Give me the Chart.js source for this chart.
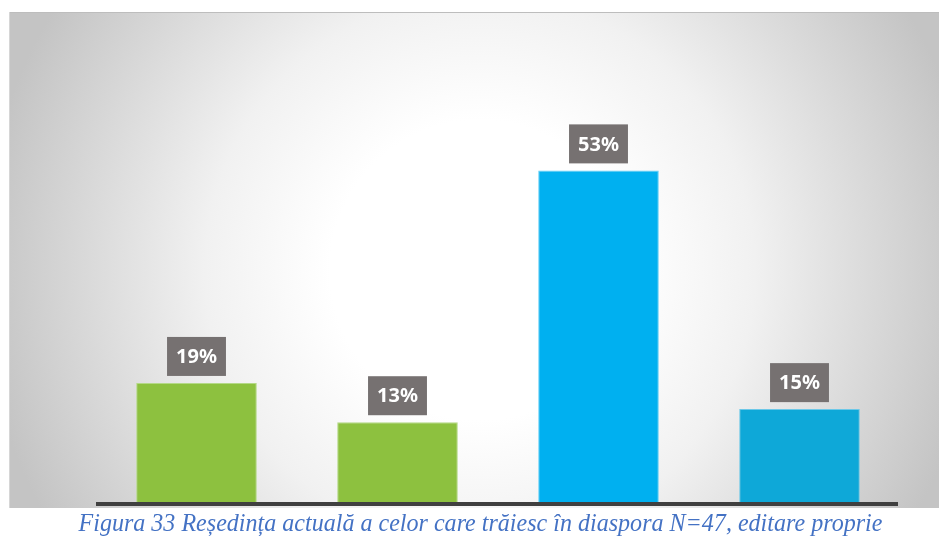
<!DOCTYPE html>
<html>
<head>
<meta charset="utf-8">
<script src="https://cdn.jsdelivr.net/npm/chart.js@4/dist/chart.umd.min.js"></script>
<style>
  body { margin: 0; background: #fff; width: 939px; height: 543px; overflow: hidden; position: relative; }
  #wrap { position: absolute; left: 0; top: 0; width: 939px; height: 510px; }
  #caption { position: absolute; left: 0; top: 510px; width: 960px; text-align: center; }
  #caption span { display: inline-block; font: italic 26px "Liberation Serif", "Times New Roman", serif; line-height: 1; color: #4472C4; white-space: nowrap; transform-origin: center; }
</style>
</head>
<body>
<div id="wrap"><canvas id="myChart" width="939" height="510"></canvas></div>
<div id="caption"><span id="capText"></span></div>
<script>
const categories = ['Categoria 1', 'Categoria 2', 'Categoria 3', 'Categoria 4'];
const values = [19.1, 12.8, 53.2, 14.9];
const barColors = ['#8DC13F', '#8DC13F', '#00B0F0', '#0EA8D8'];
const borderColors = ['#B4D986', '#B4D986', '#66D0F6', '#6CC8E8'];
const captionText = 'Figura 33 Reședința actuală a celor care trăiesc în diaspora N=47, editare proprie';

// caption, squeezed to the width it has in the picture
const cap = document.getElementById('capText');
cap.textContent = captionText;
cap.style.transform = 'scaleX(' + (804 / cap.offsetWidth) + ')';

const background = {
    id: 'background',
    beforeDraw(chart) {
        const c = chart.ctx;
        c.save();
        c.fillStyle = '#fff';
        c.fillRect(0, 0, chart.width, chart.height);
        const g = c.createRadialGradient(480, 270, 0, 480, 270, 500);
        g.addColorStop(0, '#ffffff');
        g.addColorStop(0.3, '#ffffff');
        g.addColorStop(0.55, '#f1f1f1');
        g.addColorStop(1, '#c4c4c4');
        c.fillStyle = g;
        c.fillRect(9, 12, 930, 496);
        c.strokeStyle = '#bdbdbd';
        c.lineWidth = 1;
        c.beginPath();
        c.moveTo(9, 12.5);
        c.lineTo(939, 12.5);
        c.stroke();
        c.strokeStyle = '#d6d6d6';
        c.beginPath();
        c.moveTo(9.5, 12);
        c.lineTo(9.5, 508);
        c.stroke();
        c.restore();
    }
};

const labelsAndAxis = {
    id: 'labelsAndAxis',
    afterDatasetsDraw(chart) {
        const c = chart.ctx;
        const area = chart.chartArea;
        c.save();
        // axis line
        c.strokeStyle = '#404040';
        c.lineWidth = 4;
        c.beginPath();
        c.moveTo(area.left, area.bottom + 2);
        c.lineTo(area.right - 2, area.bottom + 2);
        c.stroke();
        // value labels
        c.font = 'bold 20px "Noto Sans", "Open Sans", sans-serif';
        c.textAlign = 'center';
        c.textBaseline = 'middle';
        chart.getDatasetMeta(0).data.forEach((bar, i) => {
            const txt = Math.round(values[i]) + '%';
            const w = c.measureText(txt).width + 18;
            const h = 39;
            const bottom = bar.y - 7;
            c.fillStyle = '#767171';
            c.fillRect(bar.x - w / 2, bottom - h, w, h);
            c.fillStyle = '#ffffff';
            c.fillText(txt, bar.x, bottom - h / 2 + 1);
        });
        c.restore();
    }
};

const ctx = document.getElementById('myChart');

new Chart(ctx, {
    type: 'bar',
    data: {
        labels: categories,
        datasets: [{
            data: values,
            backgroundColor: barColors,
            borderColor: borderColors,
            borderWidth: 1,
            categoryPercentage: 0.6,
            barPercentage: 1
        }]
    },
    options: {
        responsive: false,
        maintainAspectRatio: false,
        animation: false,
        layout: { padding: { left: 96, right: 39, top: 128, bottom: 8 } },
        plugins: {
            legend: { display: false },
            tooltip: { enabled: false }
        },
        scales: {
            x: { display: false },
            y: { display: false, min: 0, max: 60 }
        }
    },
    plugins: [background, labelsAndAxis]
});
</script>
</body>
</html>
